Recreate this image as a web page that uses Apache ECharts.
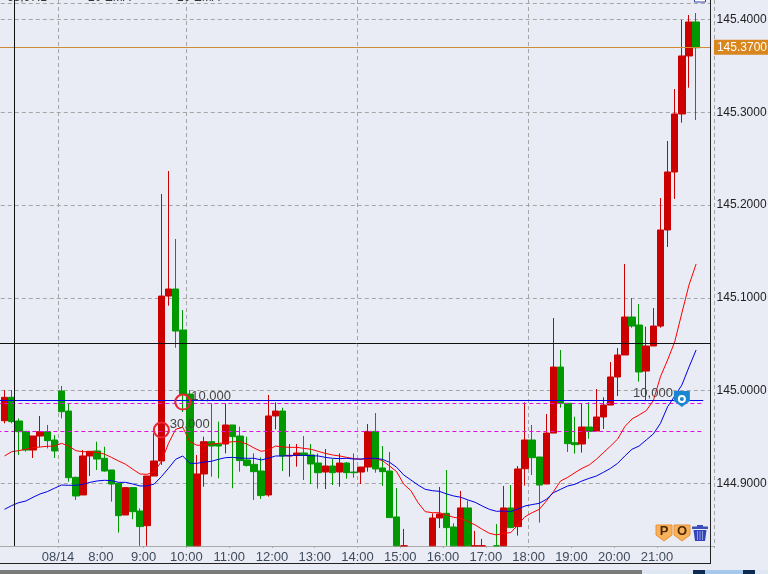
<!DOCTYPE html>
<html>
<head>
<meta charset="utf-8">
<style>
  html, body { margin: 0; padding: 0; background: #e9ecf5; }
  #chart { width: 768px; height: 574px; }
</style>
</head>
<body>
<div id="chart"></div>
<script src="https://cdn.jsdelivr.net/npm/echarts@6/dist/echarts.min.js"></script>
<script>
// 10 minute candles
const opens = [
  144.9677, 144.9929, 144.9674, 144.9562, 144.9361, 144.9512, 144.9559, 144.9469, 144.9997, 144.9781,
  144.9067, 144.8877, 144.9297, 144.9351, 144.9272, 144.9146, 144.9002, 144.8661, 144.8956, 144.8704,
  144.8546, 144.9081, 144.9243, 145.1020, 145.1096, 145.0654, 144.9964, 144.82, 144.9103, 144.9451,
  144.9426, 144.9426, 144.9631, 144.9512, 144.9254, 144.9207, 144.9135, 144.8877, 144.9728, 144.9781,
  144.9297, 144.9304, 144.9329, 144.9308, 144.9221, 144.9124, 144.9189, 144.9124, 144.9221, 144.9124,
  144.9124, 144.9178, 144.9562, 144.9168, 144.9135, 144.8640, 144.828, 144.815, 144.825, 144.818,
  144.826, 144.8629, 144.8679, 144.8532, 144.826, 144.8737, 144.826, 144.82, 144.815, 144.82,
  144.83, 144.8737, 144.8536, 144.9160, 144.9469, 144.9286, 144.8995, 144.9544, 145.0255, 144.9864,
  144.9440, 144.9426, 144.9609, 144.9566, 144.9717, 144.9846, 145.0148, 145.0385, 145.0794, 145.0708,
  145.0212, 145.0482, 145.0697, 145.1732, 145.2357, 145.2982, 145.3607, 145.3973,
];
const closes = [
  144.9929, 144.9667, 144.9559, 144.9361, 144.9512, 144.9559, 144.9462, 144.9351, 144.9774, 144.9063,
  144.8866, 144.9297, 144.9347, 144.9264, 144.9135, 144.8995, 144.8654, 144.8956, 144.8697, 144.8536,
  144.9081, 144.9243, 145.1020, 145.1096, 145.0643, 144.9964, 144.82, 144.9103, 144.9451, 144.9404,
  144.9404, 144.9631, 144.9505, 144.9247, 144.9196, 144.9128, 144.8870, 144.9728, 144.9781, 144.9297,
  144.9304, 144.9329, 144.9304, 144.9211, 144.9117, 144.9189, 144.9117, 144.9221, 144.9117, 144.9117,
  144.9178, 144.9562, 144.9157, 144.9128, 144.8633, 144.825, 144.815, 144.825, 144.818, 144.826,
  144.8629, 144.8672, 144.8525, 144.825, 144.8737, 144.826, 144.815, 144.815, 144.825, 144.83,
  144.8737, 144.8525, 144.9157, 144.9469, 144.9279, 144.8984, 144.9544, 145.0255, 144.9864, 144.9430,
  144.9419, 144.9609, 144.9562, 144.9717, 144.9846, 145.0148, 145.0385, 145.0794, 145.0697, 145.0202,
  145.0482, 145.0697, 145.1732, 145.2357, 145.2982, 145.3607, 145.3973, 145.3696,
];
const lows = [
  144.9649, 144.9649, 144.9308, 144.9343, 144.9275, 144.9390, 144.9379, 144.9275, 144.9702, 144.9020,
  144.8823, 144.8877, 144.9081, 144.9146, 144.9128, 144.8805, 144.8471, 144.8661, 144.8615, 144.83,
  144.83, 144.9081, 144.9200, 145.0916, 145.0463, 144.9770, 144.81, 144.81, 144.8966, 144.9074,
  144.9056, 144.9325, 144.8949, 144.9128, 144.9182, 144.8823, 144.8834, 144.8859, 144.9584, 144.9135,
  144.9074, 144.9182, 144.9038, 144.8995, 144.8945, 144.8941, 144.8984, 144.8966, 144.9053, 144.9063,
  144.8995, 144.9128, 144.9117, 144.8974, 144.8633, 144.82, 144.81, 144.81, 144.81, 144.81,
  144.82, 144.8521, 144.825, 144.82, 144.82, 144.82, 144.81, 144.81, 144.81, 144.815,
  144.825, 144.8525, 144.8439, 144.8977, 144.9092, 144.8579, 144.8995, 144.9544, 144.9817, 144.9340,
  144.9322, 144.9333, 144.9483, 144.9566, 144.9588, 144.9846, 144.9943, 145.0385, 145.0679, 145.0097,
  144.9900, 145.0482, 145.0679, 145.1549, 145.2066, 145.2888, 145.3265, 145.2917,
];
const highs = [
  145.0008, 145.0008, 144.9702, 144.9562, 144.9512, 144.9728, 144.9631, 144.9523, 145.0051, 144.9864,
  144.9074, 144.9361, 144.9347, 144.9451, 144.9397, 144.9146, 144.9002, 144.8956, 144.8956, 144.8733,
  144.9081, 144.9541, 145.2120, 145.2367, 145.1635, 145.0870, 145.0008, 144.9308, 144.9505, 144.9864,
  144.9667, 144.9864, 144.9631, 144.9613, 144.9505, 144.9325, 144.9282, 144.9954, 144.9875, 144.9817,
  144.9426, 144.9426, 144.9512, 144.9426, 144.9325, 144.9372, 144.9264, 144.9325, 144.9232, 144.9325,
  144.9178, 144.9641, 144.9760, 144.9404, 144.9340, 144.8952, 144.8511, 144.829, 144.829, 144.829,
  144.8679, 144.8963, 144.9146, 144.8572, 144.8920, 144.8816, 144.8489, 144.8403, 144.828, 144.8564,
  144.8974, 144.8984, 144.9189, 144.9875, 144.9631, 144.9286, 144.9749, 145.0783, 145.0439, 144.9864,
  144.9720, 144.9864, 144.9875, 145.0018, 144.9929, 145.0309, 145.0460, 145.1365, 145.0999, 145.0934,
  145.0690, 145.0891, 145.2076, 145.2691, 145.3251, 145.3995, 145.4048, 145.4070,
];
const ema10 = [
  144.9297, 144.9343, 144.9354, 144.9369, 144.9387, 144.9394, 144.9401, 144.9404, 144.9433, 144.9404,
  144.9354, 144.9343, 144.9343, 144.9336, 144.9318, 144.9282, 144.9243, 144.9207, 144.9153, 144.9103,
  144.9099, 144.9128, 144.9236, 144.9433, 144.9584, 144.9606, 144.9451, 144.9412, 144.9415, 144.9426,
  144.9433, 144.9440, 144.9451, 144.9451, 144.9426, 144.9383, 144.9347, 144.9361, 144.9404, 144.9394,
  144.9390, 144.9390, 144.9379, 144.9369, 144.9347, 144.9325, 144.9308, 144.9297, 144.9282, 144.9268,
  144.9261, 144.9268, 144.9268, 144.9247, 144.9189, 144.9128, 144.8992, 144.8923, 144.8794, 144.8697,
  144.8686, 144.8686, 144.8661, 144.8636, 144.8625, 144.8590, 144.8554, 144.8507, 144.8464, 144.8446,
  144.8464, 144.8471, 144.8554, 144.8643, 144.8686, 144.8722, 144.8812, 144.8913, 144.9028, 144.9067,
  144.9117, 144.9164, 144.9200, 144.9261, 144.9333, 144.9404, 144.9480, 144.9613, 144.9695, 144.9738,
  144.9785, 144.9893, 145.0151, 145.0331, 145.0528, 145.0837, 145.1139, 145.1365,
];
const ema20 = [
  144.8722, 144.8762, 144.8794, 144.8812, 144.8852, 144.8888, 144.8913, 144.8949, 144.8984, 144.8981,
  144.8981, 144.8992, 144.9013, 144.9028, 144.9035, 144.9031, 144.9013, 144.9013, 144.8995, 144.8974,
  144.8974, 144.8995, 144.9074, 144.9164, 144.9261, 144.9297, 144.9218, 144.9218, 144.9232, 144.9239,
  144.9261, 144.9279, 144.9282, 144.9275, 144.9272, 144.9272, 144.9254, 144.9272, 144.9297, 144.9297,
  144.9300, 144.9304, 144.9304, 144.9300, 144.9297, 144.9282, 144.9272, 144.9268, 144.9272, 144.9264,
  144.9264, 144.9272, 144.9272, 144.9261, 144.9229, 144.9175, 144.9092, 144.9038, 144.8984, 144.8938,
  144.8923, 144.8916, 144.8888, 144.8866, 144.8852, 144.8823, 144.8798, 144.8758, 144.8722, 144.8701,
  144.8704, 144.8697, 144.8726, 144.8758, 144.8773, 144.8787, 144.8830, 144.8902, 144.8938, 144.8974,
  144.8992, 144.9028, 144.9056, 144.9081, 144.9121, 144.9164, 144.9218, 144.9297, 144.9369, 144.9404,
  144.9469, 144.9534, 144.9649, 144.9828, 144.9943, 145.0061, 145.0255, 145.0439,
];

const hourLabels = ["08/14", "8:00", "9:00", "10:00", "11:00", "12:00", "13:00", "14:00",
  "15:00", "16:00", "17:00", "18:00", "19:00", "20:00", "21:00"];
const gridCandles = [8, 26, 50, 74]; // vertical dashed lines sit on these candles
const priceTicks = [144.9, 145.0, 145.1, 145.2, 145.3, 145.4];
const topRule = 145.4178;
const lastPrice = 145.37;
const crossPrice = 145.0514;
const orderLines = [144.9864, 144.9562];
const positionLine = 144.9896;
const fills = [
  { candle: 25, price: 144.9878, text: "10,000" },
  { candle: 22, price: 144.9577, text: "30,000" },
];
const openOrder = { candle: 95, price: 144.991, text: "10,000" };

const Y_MIN = 144.8327;
const Y_MAX = 145.421;
const BG = "#e9ecf5";
const RED = "#cc0000";
const GREEN = "#009900";
const FONT = '"Liberation Sans", Arial, sans-serif';

// one blank band in front and two behind so the bands land on the right pixels
const LEAD = 1;
const pad = (arr, blank) => [blank, ...arr, blank, blank];
const categories = pad(opens.map((_, k) => {
  const h = (k - 8) / 6;
  return Number.isInteger(h) && hourLabels[h] ? hourLabels[h] : String(k);
}), "");

// the library does not crop a box at the axis, so cut candles off at the bottom edge here
const cut = (v) => Math.max(v, Y_MIN + 0.0002);
const blankCandle = ["-", "-", "-", "-"];
const candles = pad(opens.map((o, k) => (
  highs[k] < Y_MIN ? blankCandle : [cut(o), cut(closes[k]), cut(lows[k]), highs[k]]
)), blankCandle);

const isHourBand = (index) => {
  const h = (index - 8 - LEAD) / 6;
  return Number.isInteger(h) && h >= 0 && h < hourLabels.length;
};

const hLine = (value, color, type) => ([
  { xAxis: LEAD - 1, yAxis: value, lineStyle: { color, type, width: 1 } },
  { xAxis: LEAD + 98, yAxis: value },
]);

const chart = echarts.init(document.getElementById("chart"), null, { renderer: "canvas" });

chart.setOption({
  animation: false,
  backgroundColor: BG,
  textStyle: { fontFamily: FONT },
  grid: { left: -6.19, width: 720.13, top: 0, bottom: 28, outerBoundsMode: "none", containLabel: false },
  xAxis: {
    type: "category",
    data: categories,
    boundaryGap: true,
    axisLine: { lineStyle: { color: "#a9a9a9", width: 1 } },
    axisTick: { show: true, length: 2, interval: (i) => isHourBand(i), lineStyle: { color: "#a9a9a9" } },
    axisLabel: {
      interval: (i) => isHourBand(i),
      color: "#3f4a5a",
      fontSize: 13,
      margin: 5,
      padding: [0, 7, 0, 0],
      hideOverlap: false,
    },
    splitLine: {
      show: true,
      interval: (i) => gridCandles.includes(i - LEAD),
      lineStyle: { color: "#a6a6a6", type: [4, 3], width: 1 },
    },
  },
  yAxis: {
    type: "value",
    position: "right",
    offset: -3.4,
    min: Y_MIN,
    max: Y_MAX,
    axisLine: { show: false },
    axisTick: { show: false, customValues: [...priceTicks, topRule] },
    axisLabel: {
      customValues: priceTicks,
      formatter: (v) => v.toFixed(4),
      color: "#222222",
      fontSize: 12,
      margin: 6,
      padding: [2, 0, 0, 0],
    },
    splitLine: { show: true, lineStyle: { color: "#a6a6a6", type: [4, 3], width: 1 } },
  },
  series: [
    {
      type: "candlestick",
      data: candles,
      barWidth: 7,
      z: 3,
      itemStyle: { color: RED, color0: GREEN, borderColor: RED, borderColor0: GREEN, borderWidth: 1 },
      markLine: {
        silent: true,
        symbol: "none",
        animation: false,
        precision: 4,
        label: { show: false },
        data: [
          hLine(positionLine, "#0000ee", "solid"),
          ...orderLines.map((v) => hLine(v, "#dd11dd", [4, 3])),
          { yAxis: crossPrice, lineStyle: { color: "#111111", width: 1, type: "solid" } },
          {
            yAxis: lastPrice,
            lineStyle: { color: "#cf8a34", width: 1, type: "solid" },
            label: {
              show: true,
              position: "end",
              distance: 0,
              formatter: lastPrice.toFixed(4),
              color: "#ffffff",
              backgroundColor: "#d9861f",
              fontSize: 12,
              fontFamily: FONT,
              padding: [2, 1, 1, 3],
            },
          },
        ],
      },
      markPoint: {
        silent: true,
        animation: false,
        data: [
          ...fills.map((f) => ({
            coord: [f.candle + LEAD, f.price],
            symbol: "circle",
            symbolSize: 15,
            itemStyle: { color: "rgba(0,0,0,0)", borderColor: "#ee2233", borderWidth: 2 },
            label: {
              show: true, position: "right", distance: 0, offset: [0, -6],
              formatter: f.text, color: "#444444", fontSize: 13, fontFamily: FONT,
            },
          })),
          {
            coord: [openOrder.candle + LEAD, openOrder.price],
            symbol: "path://M0 0H16V10L8 16L0 10Z",
            symbolSize: 16,
            itemStyle: { color: "#1a86d0" },
            label: {
              show: true, position: "left", distance: 1, offset: [0, -6],
              formatter: openOrder.text, color: "#444444", fontSize: 13, fontFamily: FONT,
            },
          },
          {
            coord: [openOrder.candle + LEAD, openOrder.price],
            symbol: "circle",
            symbolSize: 6,
            itemStyle: { color: "#1a86d0", borderColor: "#ffffff", borderWidth: 2 },
            label: { show: false },
          },
        ],
      },
    },
    {
      type: "line",
      data: pad(ema10, "-"),
      symbol: "none",
      smooth: false,
      z: 4,
      lineStyle: { color: "#ff0000", width: 1 },
    },
    {
      type: "line",
      data: pad(ema20, "-"),
      symbol: "none",
      smooth: false,
      z: 4,
      lineStyle: { color: "#0000e6", width: 1 },
    },
  ],
  graphic: [
    // hides the axis overshoot right of the price axis
    { type: "rect", z: 100, shape: { x: 711, y: 0, width: 3, height: 546 }, style: { fill: BG } },
    // price axis line
    { type: "line", z: 100, shape: { x1: 710.5, y1: 0, x2: 710.5, y2: 564 }, style: { stroke: "#222222", lineWidth: 1 } },
    // crosshair
    { type: "line", z: 20, shape: { x1: 14.5, y1: 0, x2: 14.5, y2: 546 }, style: { stroke: "#111111", lineWidth: 1 } },
    // frame under the time axis
    { type: "line", z: 100, shape: { x1: 0, y1: 563.5, x2: 711, y2: 563.5 }, style: { stroke: "#222222", lineWidth: 1 } },
    // window strip at the very bottom
    { type: "rect", z: 100, shape: { x: 0, y: 570, width: 642, height: 4 }, style: { fill: "#7a7a7a" } },
    { type: "rect", z: 100, shape: { x: 642, y: 570, width: 51, height: 4 }, style: { fill: "#dfe7f2" } },
    { type: "rect", z: 100, shape: { x: 693, y: 570, width: 12, height: 4 }, style: { fill: "#0c2a52" } },
    { type: "rect", z: 100, shape: { x: 705, y: 570, width: 38, height: 4 }, style: { fill: "#a6c8ec" } },
    { type: "rect", z: 100, shape: { x: 743, y: 570, width: 12, height: 4 }, style: { fill: "#0c2a52" } },
    { type: "rect", z: 100, shape: { x: 755, y: 570, width: 13, height: 4 }, style: { fill: "#dfe7f2" } },
    // legend text cut off by the top edge
    ...[["-68,97.1", 3], ["20 EMA", 88], ["10 EMA", 177]].map(([text, x]) => ({
      type: "text", z: 100, x, y: -8.5,
      style: { text, fill: "#333333", font: `12px ${FONT}` },
    })),
    // small button cut off by the top edge
    { type: "rect", z: 100, shape: { x: 694.5, y: -4, width: 11, height: 6 }, style: { fill: "#ffffff", stroke: "#3344aa", lineWidth: 1 } },
    // P, O buttons
    ...[["P", 656], ["O", 674]].flatMap(([letter, x]) => [
      {
        type: "polygon", z: 100,
        shape: { points: [[x, 525], [x + 16, 525], [x + 16, 535], [x + 8, 541], [x, 535]] },
        style: { fill: "#f8b25a", stroke: "#ea9236", lineWidth: 1 },
      },
      {
        type: "text", z: 101, x: x + 8, y: 531,
        style: { text: letter, fill: "#4a2a05", font: `bold 13px ${FONT}`, align: "center", verticalAlign: "middle" },
      },
    ]),
    // trash can
    { type: "rect", z: 100, shape: { x: 692, y: 526.5, width: 16, height: 2.5 }, style: { fill: "#3a4fb8" } },
    { type: "rect", z: 100, shape: { x: 697, y: 525, width: 6, height: 2 }, style: { fill: "#3a4fb8" } },
    {
      type: "polygon", z: 100,
      shape: { points: [[693.5, 530], [706.5, 530], [705, 541], [695, 541]] },
      style: { fill: "#3344bb" },
    },
    ...[697.5, 700, 702.5].map((x) => ({
      type: "line", z: 101, shape: { x1: x, y1: 531, x2: x, y2: 540 }, style: { stroke: "#8f9be0", lineWidth: 1 },
    })),
  ],
});
</script>
</body>
</html>
